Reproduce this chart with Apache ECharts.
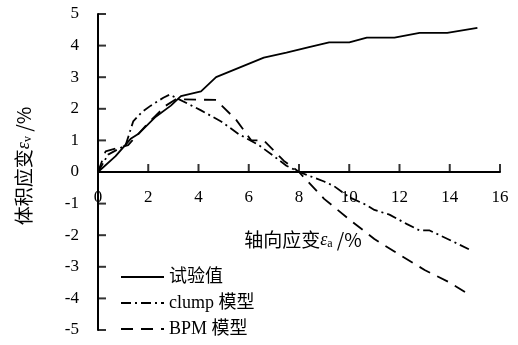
<!DOCTYPE html>
<html>
<head>
<meta charset="utf-8">
<script src="https://cdn.jsdelivr.net/npm/echarts@6/dist/echarts.min.js"></script>
<style>
html,body{margin:0;padding:0;background:#fff;}
#c{width:518px;height:345px;}
</style>
</head>
<body>
<div id="c"></div>
<script>
var seriesNames = ['试验值', 'clump 模型', 'BPM 模型'];
var testX = [0, 0.7, 1.3, 1.6, 2.3, 2.9, 3.3, 4.1, 4.7, 6.6, 7.5, 8.4, 9.2, 10, 10.7, 11.8, 12.8, 13.9, 15.1];
var testY = [0, 0.5, 1.05, 1.2, 1.75, 2.1, 2.4, 2.55, 3.0, 3.62, 3.78, 3.95, 4.1, 4.1, 4.25, 4.25, 4.4, 4.4, 4.56];
var clumpX = [0, 0.4, 1.1, 1.4, 1.75, 2.1, 2.6, 2.85, 4.1, 4.9, 5.6, 6.4, 7, 7.5, 8, 9, 9.4, 10, 10.7, 11, 11.6, 12.3, 12.8, 13.2, 14, 14.9];
var clumpY = [0, 0.55, 0.85, 1.6, 1.9, 2.1, 2.35, 2.45, 1.95, 1.6, 1.2, 0.85, 0.5, 0.2, 0, -0.3, -0.45, -0.8, -1.05, -1.2, -1.35, -1.65, -1.85, -1.85, -2.15, -2.5];
var bpmX = [0, 0.3, 1.2, 2.0, 2.7, 3.1, 4.7, 5.5, 6.1, 6.6, 7.4, 8, 9, 10, 11, 12, 13, 14, 14.75];
var bpmY = [0, 0.65, 0.85, 1.55, 2.1, 2.3, 2.28, 1.65, 1.0, 1.0, 0.35, 0, -0.85, -1.5, -2.12, -2.62, -3.1, -3.5, -3.87];
var xTickValues = [2, 4, 6, 8, 10, 12, 14, 16];
var yTickValues = [-5, -4, -3, -2, -1, 0, 1, 2, 3, 4, 5];

function pairs(xs, ys) { return xs.map(function (x, i) { return [x, ys[i]]; }); }

var serif = 'Liberation Serif, Noto Sans CJK SC, serif';
var chart = echarts.init(document.getElementById('c'), null, {renderer: 'canvas'});
chart.setOption({
  animation: false,
  backgroundColor: '#fff',
  grid: {left: 98, right: 18, top: 14, bottom: 15, containLabel: false, outerBoundsMode: 'none'},
  xAxis: {
    type: 'value', min: 0, max: 16, interval: 2,
    position: 'bottom', offset: -158,
    axisLine: {show: true, onZero: false, lineStyle: {color: '#000', width: 2}},
    axisTick: {show: false},
    axisLabel: {color: '#000', fontSize: 17, fontFamily: serif, margin: 17},
    splitLine: {show: false},
    name: '轴向应变{e|ε}{s|a} /%',
    nameLocation: 'middle', nameGap: 58,
    nameTextStyle: {
      color: '#000', fontSize: 19, fontFamily: 'Noto Sans CJK SC',
      padding: [0, 0, 0, 8],
      rich: {
        e: {fontFamily: serif, fontStyle: 'italic', fontSize: 18, color: '#000'},
        s: {fontFamily: serif, fontSize: 12, color: '#000', padding: [8, 0, 0, 0]}
      }
    }
  },
  yAxis: {
    type: 'value', min: -5, max: 5, interval: 1,
    axisLine: {show: true, lineStyle: {color: '#000', width: 2}},
    axisTick: {show: false},
    axisLabel: {color: '#000', fontSize: 17, fontFamily: serif, margin: 19},
    splitLine: {show: false}
  },
  legend: {
    orient: 'vertical', left: 120, top: 268, padding: 0,
    itemWidth: 43, itemHeight: 18, itemGap: 8,
    itemStyle: {opacity: 0},
    textStyle: {color: '#000', fontSize: 18, fontFamily: serif},
    data: seriesNames
  },
  graphic: [{
    type: 'text', x: 24, y: 166, rotation: Math.PI / 2,
    style: {
      text: '体积应变{e|ε}{s|v} /%',
      fill: '#000', font: '19px "Noto Sans CJK SC"',
      align: 'center', verticalAlign: 'middle',
      rich: {
        e: {fontFamily: serif, fontStyle: 'italic', fontSize: 18, fill: '#000'},
        s: {fontFamily: serif, fontSize: 12, fill: '#000', padding: [8, 0, 0, 0]}
      }
    }
  }],
  series: [
    {name: seriesNames[0], type: 'line', symbol: 'none', data: pairs(testX, testY),
     lineStyle: {color: '#000', width: 1.8, type: 'solid'}, itemStyle: {color: '#000'}},
    {name: seriesNames[1], type: 'line', symbol: 'none', data: pairs(clumpX, clumpY),
     lineStyle: {color: '#000', width: 1.8, type: [10, 4, 2, 4]}, itemStyle: {color: '#000'}},
    {name: seriesNames[2], type: 'line', symbol: 'none', data: pairs(bpmX, bpmY),
     lineStyle: {color: '#000', width: 1.8, type: [12, 8]}, itemStyle: {color: '#000'}},
    {name: 'xTicks', type: 'scatter', silent: true, clip: false,
     data: xTickValues.map(function (v) { return [v, 0]; }),
     symbol: 'rect', symbolSize: [2, 8], symbolOffset: [0, -4],
     itemStyle: {color: '#000'}},
    {name: 'yTicks', type: 'scatter', silent: true, clip: false,
     data: yTickValues.map(function (v) { return [0, v]; }),
     symbol: 'rect', symbolSize: [8, 2], symbolOffset: [4, 0],
     itemStyle: {color: '#000'}}
  ]
});
</script>
</body>
</html>
